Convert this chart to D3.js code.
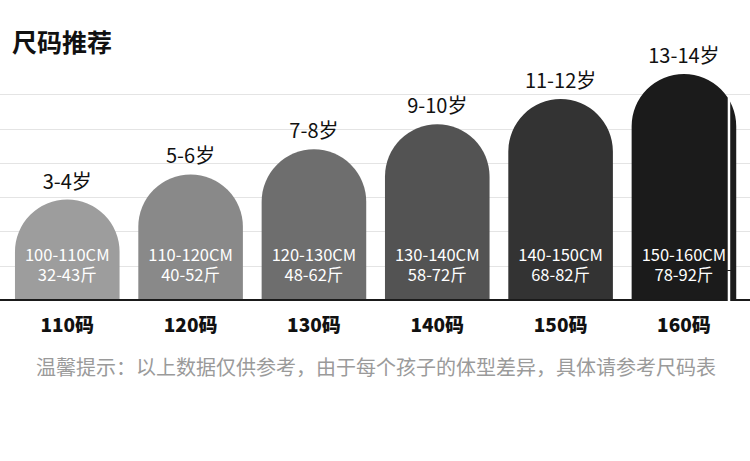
<!DOCTYPE html>
<html>
<head>
<meta charset="utf-8">
<script src="https://cdn.jsdelivr.net/npm/d3@7"></script>
<style>
  html, body { margin: 0; padding: 0; background: #fff; }
  svg { display: block; }
  text { font-family: "Noto Sans CJK SC", "Noto Sans", sans-serif; }
</style>
</head>
<body>
<div id="chart"></div>
<script>
const sizes = ["110码", "120码", "130码", "140码", "150码", "160码"];
const ages = ["3-4岁", "5-6岁", "7-8岁", "9-10岁", "11-12岁", "13-14岁"];
const heightRanges = ["100-110CM", "110-120CM", "120-130CM", "130-140CM", "140-150CM", "150-160CM"];
const weightRanges = ["32-43斤", "40-52斤", "48-62斤", "58-72斤", "68-82斤", "78-92斤"];
const heightMax = [110, 120, 130, 140, 150, 160];
const barColors = ["#9d9d9d", "#898989", "#6e6e6e", "#535353", "#333333", "#1b1b1b"];
const gridLevels = [1, 2, 3, 4, 5, 6];
const titleText = "尺码推荐";
const noteText = "温馨提示：以上数据仅供参考，由于每个孩子的体型差异，具体请参考尺码表";

const W = 750, H = 461, baseY = 300;
const svg = d3.select("#chart").append("svg").attr("width", W).attr("height", H);

const x = d3.scaleBand().domain(sizes).range([5.6, 745.6]).paddingInner(0.152).paddingOuter(0.076);
const y = d3.scaleLinear().domain([70, 160]).range([baseY, 74]);
const gy = d3.scaleLinear().domain([0, 6]).range([baseY, 94.2]);

// gridlines
svg.append("g").selectAll("line").data(gridLevels).join("line")
  .attr("x1", 0).attr("x2", W)
  .attr("y1", d => Math.round(gy(d)) + 0.5).attr("y2", d => Math.round(gy(d)) + 0.5)
  .attr("stroke", "#e4e4e4").attr("stroke-width", 1);

// title
svg.append("text").attr("x", 12).attr("y", 52)
  .attr("font-size", 25).attr("font-weight", 700).attr("fill", "#111")
  .text(titleText);

const rows = sizes.map((s, i) => ({ s, i, v: heightMax[i] }));

// bars: rectangle with semicircular top
svg.append("g").selectAll("path").data(rows).join("path")
  .attr("fill", d => barColors[d.i])
  .attr("d", d => {
    const x0 = x(d.s), w = x.bandwidth(), r = w / 2, top = y(d.v);
    return `M${x0},${baseY} V${top + r} A${r},${r} 0 0 1 ${x0 + w},${top + r} V${baseY} Z`;
  });

// baseline
svg.append("line").attr("x1", 0).attr("x2", W).attr("y1", baseY).attr("y2", baseY)
  .attr("stroke", "#1a1a1a").attr("stroke-width", 2);

// white cut artifact on the last bar
const last = rows[rows.length - 1];
svg.append("rect")
  .attr("x", x(last.s) + x.bandwidth() - 8.5).attr("y", y(last.v) + 24)
  .attr("width", 2.5).attr("height", baseY + 6 - (y(last.v) + 24))
  .attr("fill", "#fff");
svg.append("line")
  .attr("x1", x(last.s) + x.bandwidth() - 9).attr("x2", x(last.s) + x.bandwidth() - 5)
  .attr("y1", 270.5).attr("y2", 270.5).attr("stroke", "#1b1b1b").attr("stroke-width", 1);

// age labels
svg.append("g").selectAll("text").data(rows).join("text")
  .attr("x", d => x(d.s) + x.bandwidth() / 2)
  .attr("y", d => y(d.v) - 11)
  .attr("text-anchor", "middle").attr("font-size", 20).attr("fill", "#111")
  .text(d => ages[d.i]);

// inside labels (two lines in one text element)
const inner = svg.append("g").selectAll("text").data(rows).join("text")
  .attr("text-anchor", "middle").attr("font-size", 16.5).attr("fill", "#fff");
inner.append("tspan")
  .attr("x", d => x(d.s) + x.bandwidth() / 2).attr("y", 261)
  .text(d => heightRanges[d.i]);
inner.append("tspan")
  .attr("x", d => x(d.s) + x.bandwidth() / 2).attr("y", 281)
  .text(d => weightRanges[d.i]);

// category axis labels
const axis = d3.axisBottom(x).tickSize(0).tickPadding(0);
const ag = svg.append("g").attr("transform", `translate(0,${baseY})`).call(axis);
ag.select(".domain").remove();
ag.selectAll("text")
  .attr("y", 32).attr("dy", null)
  .attr("font-size", 19).attr("font-weight", 900).attr("fill", "#111")
  .style("font-family", "'Noto Sans CJK SC', sans-serif");

// note
svg.append("text").attr("x", 36).attr("y", 375)
  .attr("font-size", 20).attr("fill", "#9a9a9a")
  .text(noteText);
</script>
</body>
</html>
